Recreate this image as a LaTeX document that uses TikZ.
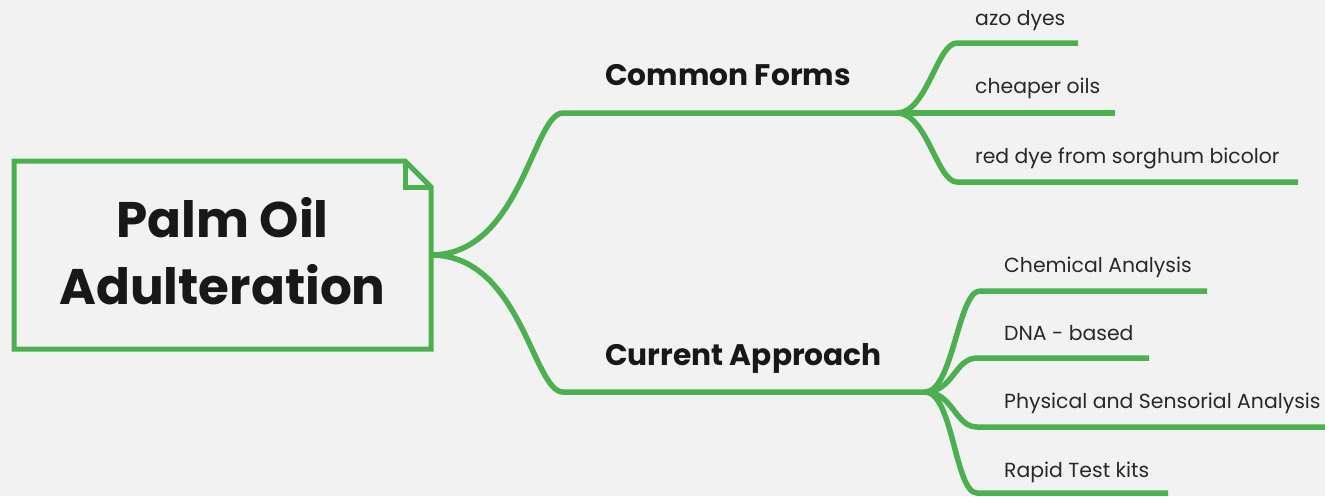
\documentclass[tikz,border=0pt]{standalone}
\usepackage{fontspec}
\setmainfont{Poppins}
\definecolor{mapgreen}{RGB}{76,176,80}
\definecolor{paper}{RGB}{242,242,242}
\definecolor{ink}{RGB}{24,24,24}
\definecolor{leafink}{RGB}{40,40,40}
\tikzset{
  branch/.style={draw=mapgreen, line width=5.5pt, line cap=butt},
  rootline/.style={draw=mapgreen, line width=5pt, line join=miter},
  rootbox/.style={inner sep=0pt, outer sep=0pt, minimum width=417pt, minimum height=188pt},
  roottext/.style={inner sep=0pt, align=center, text=ink, font=\fontsize{50}{67}\selectfont\bfseries},
  toplabel/.style={anchor=base west, inner sep=0pt, text=ink, font=\fontsize{29.7}{32}\selectfont\bfseries},
  leaflabel/.style={anchor=base west, inner sep=0pt, text=leafink, font=\fontsize{20.4}{24}\selectfont},
}
\begin{document}
\begin{tikzpicture}[x=1pt, y=-1pt]
  \useasboundingbox (0,0) rectangle (1325,496);
  \fill[paper] (0,0) rectangle (1325,496);

  % central topic with folded corner
  \node[rootbox] (root) at (222.5,255) {};
  \node[roottext] (title) at ([yshift=4pt]root.center) {Palm Oil\\Adulteration};
  \draw[rootline] (root.north west) -- ([xshift=-26pt]root.north east)
    -- ([yshift=-26pt]root.north east) -- (root.south east)
    -- (root.south west) -- cycle;
  \draw[rootline] ([xshift=-26pt]root.north east)
    -- ([xshift=-26pt,yshift=-26pt]root.north east)
    -- ([yshift=-26pt]root.north east);

  % main topics
  \node[toplabel] (cf) at (605,85) {Common Forms};
  \node[toplabel] (ca) at (605,365) {Current Approach};
  \coordinate (cfL) at (563,113);
  \coordinate (cfJ) at (897,113);
  \coordinate (caL) at (563,392);
  \coordinate (caJ) at (925,392);
  \draw[branch] (root.east) .. controls +(90,0) and +(-30,0) .. (cfL) -- (cfJ);
  \draw[branch] (root.east) .. controls +(90,0) and +(-30,0) .. (caL) -- (caJ);

  % sub-topics of Common Forms
  \node[leaflabel] (azo) at (975,25) {azo dyes};
  \node[leaflabel] (oils) at (975,93) {cheaper oils};
  \node[leaflabel] (red) at (975,163) {red dye from sorghum bicolor};
  \coordinate (azoL) at (957,43);  \coordinate (azoR) at (1078,43);
  \coordinate (oilsR) at (1115,113);
  \coordinate (redL) at (957,182); \coordinate (redR) at (1298,182);
  \draw[branch] (cfJ) .. controls +(30,0) and +(-20,0) .. (azoL) -- (azoR);
  \draw[branch] (cfJ) -- (oilsR);
  \draw[branch] (cfJ) .. controls +(30,0) and +(-20,0) .. (redL) -- (redR);

  % sub-topics of Current Approach
  \node[leaflabel] (chem) at (1004,272) {Chemical Analysis};
  \node[leaflabel] (dna) at (1004,340) {DNA - based};
  \node[leaflabel] (phys) at (1004,408) {Physical and Sensorial Analysis};
  \node[leaflabel] (kits) at (1004,477) {Rapid Test kits};
  \coordinate (chemL) at (980,291); \coordinate (chemR) at (1207,291);
  \coordinate (dnaL) at (977,358);  \coordinate (dnaR) at (1149,358);
  \coordinate (physL) at (977,427); \coordinate (physR) at (1325,427);
  \coordinate (kitsL) at (977,493); \coordinate (kitsR) at (1168,493);
  \draw[branch] (caJ) .. controls +(28,0) and +(-22,0) .. (chemL) -- (chemR);
  \draw[branch] (caJ) .. controls +(28,0) and +(-22,0) .. (dnaL) -- (dnaR);
  \draw[branch] (caJ) .. controls +(28,0) and +(-22,0) .. (physL) -- (physR);
  \draw[branch] (caJ) .. controls +(28,0) and +(-22,0) .. (kitsL) -- (kitsR);
\end{tikzpicture}
\end{document}
